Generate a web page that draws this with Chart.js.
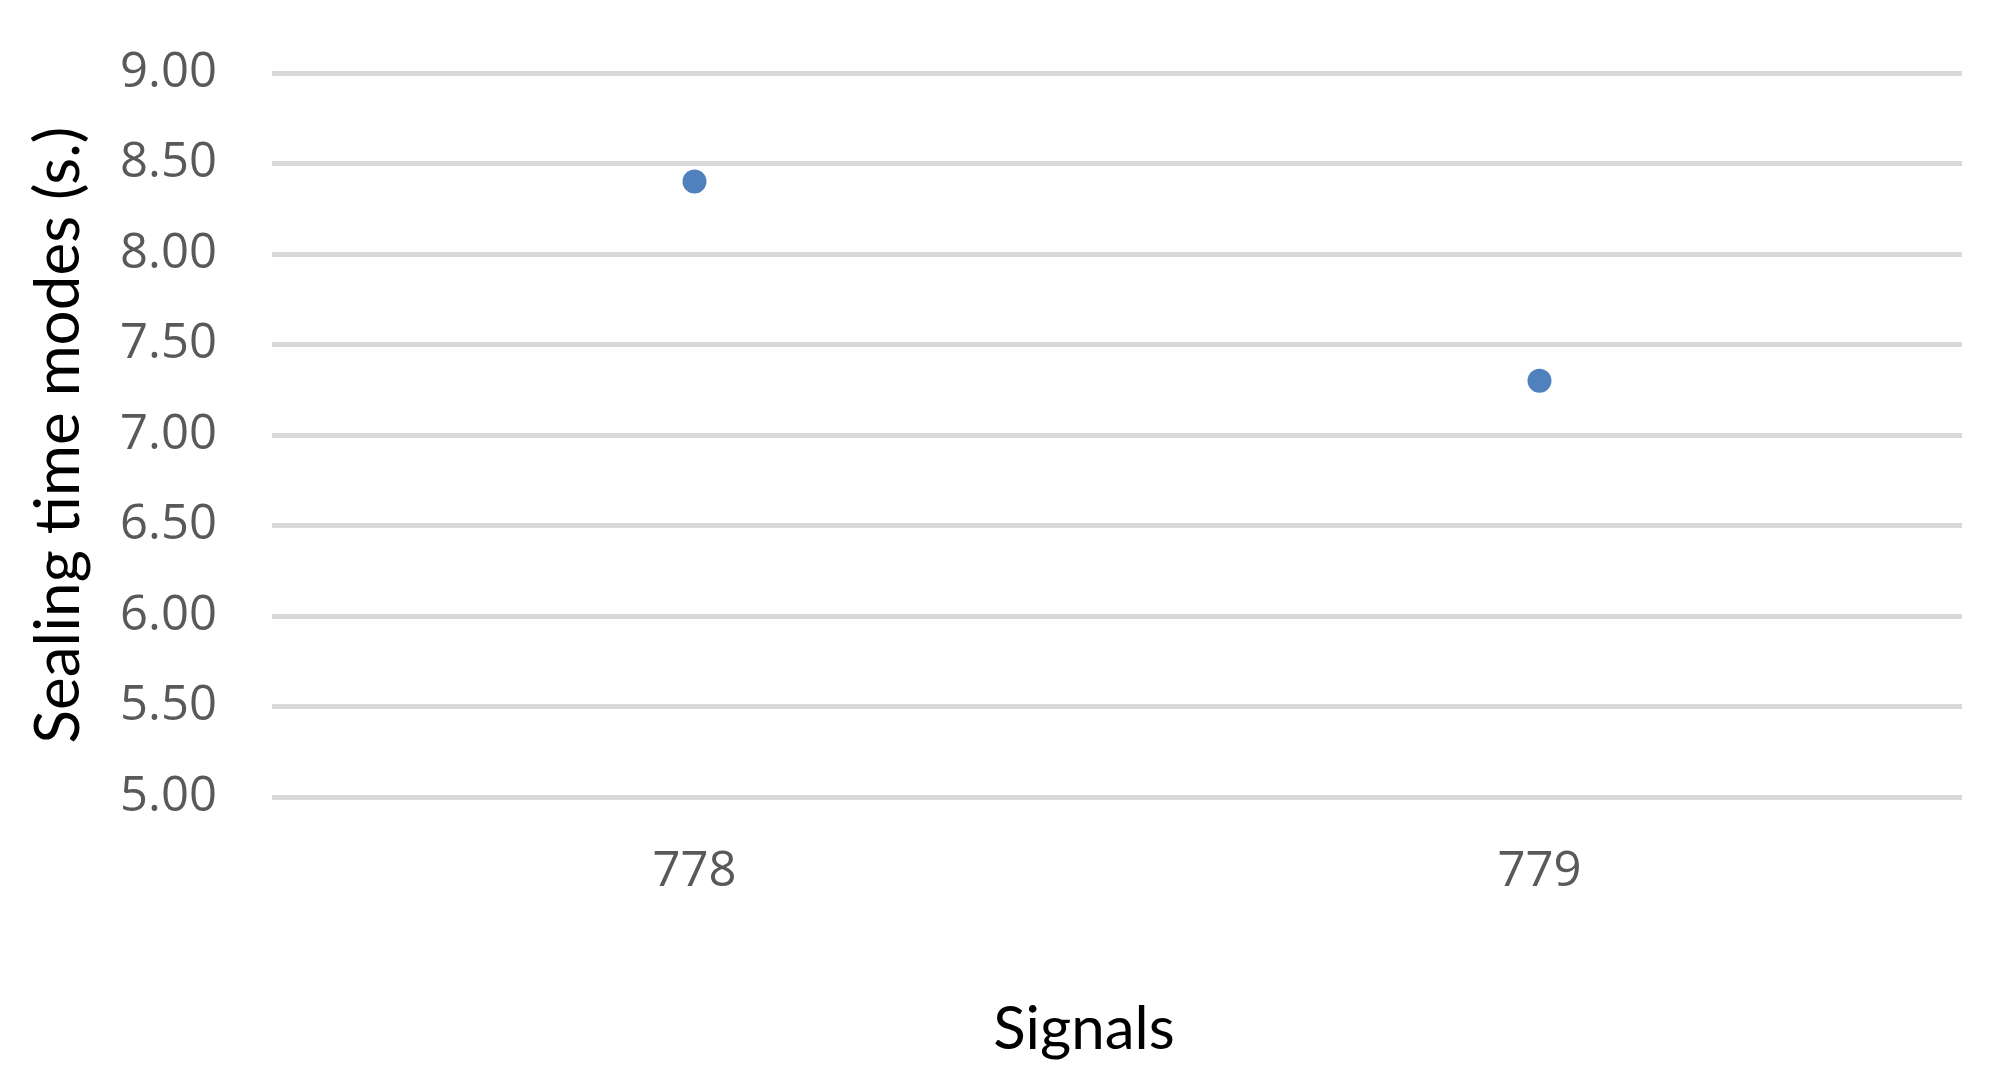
<!DOCTYPE html>
<html>
<head>
<meta charset="utf-8">
<script src="https://cdn.jsdelivr.net/npm/chart.js@4/dist/chart.umd.min.js"></script>
<style>
  html, body { margin: 0; padding: 0; background: #ffffff; }
  #wrap { width: 2011px; height: 1087px; }
</style>
</head>
<body>
<div id="wrap"><canvas id="c" width="2011" height="1087"></canvas></div>
<script>
const categories = ['778', '779'];
const sealingModes = [8.40, 7.30];
const yMin = 5.0;
const yMax = 9.0;
const yStep = 0.5;
const xTitle = 'Signals';
const yTitle = 'Sealing time modes (s.)';

const xTitlePlugin = {
  id: 'xTitle',
  afterDraw(chart) {
    const ctx = chart.ctx;
    const a = chart.chartArea;
    ctx.save();
    ctx.font = '60px Lato';
    ctx.fillStyle = '#000000';
    ctx.textAlign = 'center';
    ctx.textBaseline = 'alphabetic';
    ctx.fillText(xTitle, (a.left + a.right) / 2 - 33, 1049);
    ctx.restore();
  }
};

new Chart(document.getElementById('c'), {
  type: 'line',
  data: {
    labels: categories,
    datasets: [{
      label: 'Modes',
      data: sealingModes,
      showLine: false,
      pointRadius: 12,
      pointHoverRadius: 12,
      pointBackgroundColor: '#4f81bd',
      pointBorderColor: '#4f81bd',
      pointBorderWidth: 0,
      borderColor: '#4f81bd'
    }]
  },
  options: {
    responsive: false,
    animation: false,
    events: [],
    layout: { padding: { left: 22, top: 73, right: 49, bottom: 0 } },
    plugins: { legend: { display: false }, tooltip: { enabled: false } },
    scales: {
      x: {
        offset: true,
        grid: { display: false, drawTicks: false },
        border: { display: false },
        ticks: { color: '#595959', font: { family: 'Open Sans', size: 49 }, padding: 46 },
        afterFit(scale) { scale.height = 290; scale.paddingLeft = 0; scale.paddingRight = 0; }
      },
      y: {
        min: yMin,
        max: yMax,
        grid: { color: '#d9d9d9', lineWidth: 5, drawTicks: false },
        border: { display: false },
        ticks: {
          stepSize: yStep,
          color: '#595959',
          font: { family: 'Open Sans', size: 49 },
          padding: 55,
          callback: (v) => Number(v).toFixed(2)
        },
        title: {
          display: true,
          text: yTitle,
          color: '#000000',
          font: { family: 'Lato', size: 62 },
          padding: 0
        },
        afterFit(scale) { scale.width = 250; scale.paddingTop = 0; scale.paddingBottom = 0; }
      }
    }
  },
  plugins: [xTitlePlugin]
});
</script>
</body>
</html>
